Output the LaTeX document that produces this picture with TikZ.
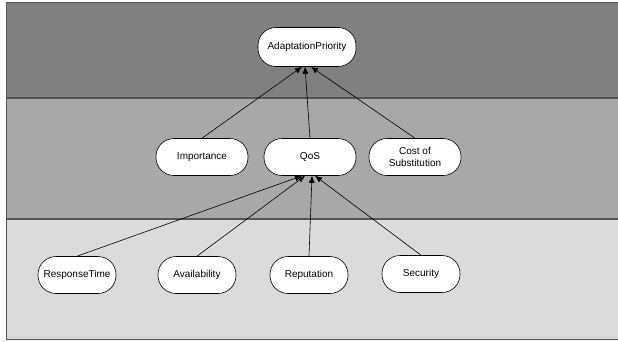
\documentclass[tikz,border=0pt]{standalone}
\usepackage{fontspec}
\setmainfont{Liberation Sans}
\usetikzlibrary{arrows.meta}
\definecolor{bandtop}{HTML}{808080}
\definecolor{bandmid}{HTML}{A8A8A8}
\definecolor{bandlow}{HTML}{DBDBDB}
\definecolor{bandline}{HTML}{555555}
\begin{document}
\begin{tikzpicture}[x=1pt,y=-1pt,
  goal/.style={draw=black, line width=0.6pt, fill=white, rounded corners=18pt,
    minimum width=#1, minimum height=37pt, inner sep=0pt, align=center,
    font=\fontsize{10}{12}\selectfont},
  goal/.default=92pt,
  link/.style={draw=black, line width=0.6pt, -{Latex[length=7pt,width=6pt]}},
  divider/.style={draw=bandline, line width=1.3pt}]
\useasboundingbox (0,0) rectangle (618,341);
% horizontal bands
\fill[white] (0,0) rectangle (618,341);
\fill[bandtop] (6,2) rectangle (618,98);
\fill[bandmid] (6,98) rectangle (618,219);
\fill[bandlow] (6,219) rectangle (618,339);
\draw[divider] (6,98) -- (618,98);
\draw[divider] (6,219) -- (618,219);
\draw[bandline, line width=1pt] (618,2) -- (6,2) -- (6,339) -- (618,339);
% goal nodes
\node[goal=98pt, minimum height=39pt] (ap) at (307,47) {AdaptationPriority};
\node[goal] (imp) at (202,157) {Importance};
\node[goal] (qos) at (310,157) {QoS};
\node[goal] (cost) at (415,157) {Cost of\\Substitution};
\node[goal=78pt] (rt) at (77,275) {ResponseTime};
\node[goal=78pt] (av) at (197,275) {Availability};
\node[goal=78pt] (rep) at (309,275) {Reputation};
\node[goal=78pt] (sec) at (421,274) {Security};
% contribution links
\draw[link] (imp.north) -- ([xshift=-5pt]ap.south);
\draw[link] (qos.north) -- ([xshift=-2pt]ap.south);
\draw[link] (cost.north) -- ([xshift=4pt]ap.south);
\draw[link] (rt.north) -- ([xshift=-8pt]qos.south);
\draw[link] (av.north) -- ([xshift=-5pt]qos.south);
\draw[link] (rep.north) -- ([xshift=2pt]qos.south);
\draw[link] (sec.north) -- ([xshift=5pt]qos.south);
\end{tikzpicture}
\end{document}
